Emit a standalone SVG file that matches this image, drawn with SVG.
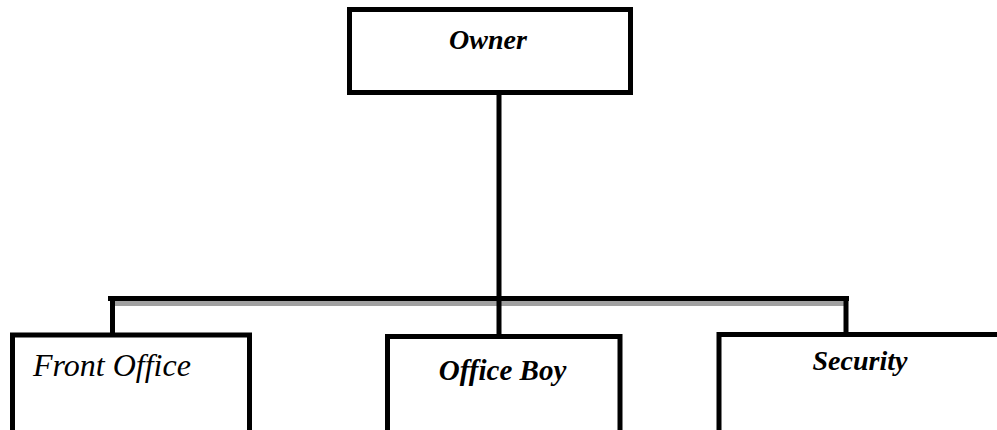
<svg xmlns="http://www.w3.org/2000/svg" width="997" height="430" viewBox="0 0 997 430">
  <style>
    .box { fill: #ffffff; stroke: #000000; stroke-width: 5; }
    .line { stroke: #000000; stroke-width: 5; fill: none; }
    .shadow { stroke: #a0a0a0; stroke-width: 5; fill: none; }
    .bi { font-family: "Liberation Serif", "Times New Roman", serif; font-weight: bold; font-style: italic; font-size: 28px; fill: #000; }
    .it { font-family: "Liberation Serif", "Times New Roman", serif; font-style: italic; font-size: 32px; fill: #000; }
  </style>
  <rect width="997" height="430" fill="#ffffff"/>
  <g id="connectors">
    <line class="shadow" x1="113" y1="303.5" x2="846" y2="303.5"/>
    <line class="line" x1="108" y1="298.5" x2="849" y2="298.5"/>
    <line class="line" x1="499" y1="93" x2="499" y2="336"/>
    <line class="line" x1="112.5" y1="296" x2="112.5" y2="335"/>
    <line class="line" x1="846" y1="296" x2="846" y2="335"/>
  </g>
  <g id="owner">
    <rect class="box" x="349.5" y="9.5" width="281" height="83"/>
    <text class="bi" x="488" y="49" text-anchor="middle">Owner</text>
  </g>
  <g id="front-office">
    <rect class="box" x="12.5" y="335" width="237" height="110"/>
    <text class="it" x="33" y="376">Front Office</text>
  </g>
  <g id="office-boy">
    <rect class="box" x="387.5" y="336.5" width="232.5" height="110"/>
    <text class="bi" x="502.5" y="380" text-anchor="middle" style="font-size:29px">Office Boy</text>
  </g>
  <g id="security">
    <rect class="box" x="719" y="334.5" width="300" height="110"/>
    <text class="bi" x="860" y="370" text-anchor="middle">Security</text>
  </g>
</svg>
